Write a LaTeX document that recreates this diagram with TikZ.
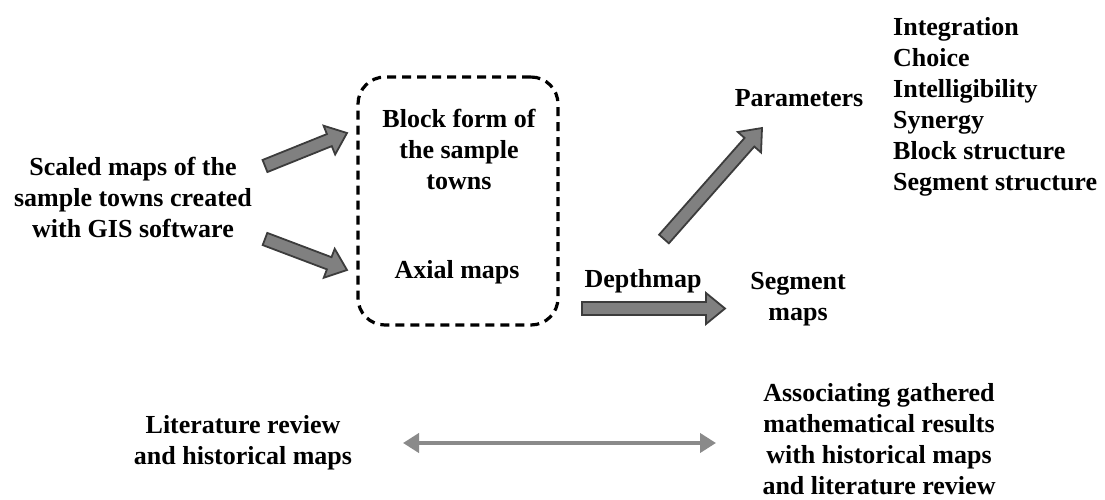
\documentclass[tikz,border=0pt]{standalone}
\usepackage{fontspec}
\setmainfont{Liberation Serif}
\usetikzlibrary{calc,arrows.meta}

\definecolor{arrowfill}{HTML}{808080}
\definecolor{arrowedge}{HTML}{3C3C3C}
\definecolor{linkgray}{HTML}{8A8A8A}

\tikzset{
  txt/.style={font=\fontsize{26}{31}\selectfont\bfseries, inner sep=0pt, align=center},
  listtxt/.style={txt, align=left},
  dashbox/.style={draw=black, line width=3.2pt, dash pattern=on 9pt off 6pt,
    rounded corners=27pt, minimum width=200pt, minimum height=248pt},
  % outlined block arrow built between two named points
  blockarrow/.style={draw=arrowedge, fill=arrowfill, line width=1.8pt, line join=miter,
    to path={let \p1=($(\tikztotarget)-(\tikztostart)$),
      \n1={veclen(\x1,\y1)}, \n2={atan2(\y1,\x1)} in
      {[shift={(\tikztostart)}, rotate=\n2]
      (0pt,6.5pt) -- ({\n1-19pt},6.5pt) -- ({\n1-19pt},15.5pt) -- (\n1,0pt)
      -- ({\n1-19pt},-15.5pt) -- ({\n1-19pt},-6.5pt) -- (0pt,-6.5pt) -- cycle}}},
  link/.style={draw=linkgray, line width=4.5pt,
    {Triangle[length=16pt,width=19pt]}-{Triangle[length=16pt,width=19pt]}}
}

\begin{document}
\begin{tikzpicture}[x=1pt,y=-1pt]
\useasboundingbox (0,0) rectangle (1105,500);

% input maps (multi-line nodes are placed by the baseline of their last line)
\node[txt, anchor=base] (scaled) at (133,237)
  {Scaled maps of the\\sample towns created\\with GIS software};

% dashed group of derived maps
\node[dashbox] (group) at (458,201) {};
\node[txt, anchor=base] (block) at (459,189) {Block form of\\the sample\\towns};
\node[txt, anchor=base] (axial) at (457,278) {Axial maps};

% analysis
\node[txt, anchor=base] (depth) at (643,287) {Depthmap};
\node[txt, anchor=base] (segment) at (798,320) {Segment\\maps};
\node[txt, anchor=base] (params) at (799,107) {Parameters};
\node[listtxt, anchor=base west] (plist) at (893,190)
  {Integration\\Choice\\Intelligibility\\Synergy\\Block structure\\Segment structure};

% historical comparison
\node[txt, anchor=base] (lit) at (243,464) {Literature review\\and historical maps};
\node[txt, anchor=base] (assoc) at (879,494)
  {Associating gathered\\mathematical results\\with historical maps\\and literature review};

% arrow end points
\coordinate (u0) at (265,166);
\coordinate (u1) at (347,133);
\coordinate (l0) at (265,239);
\coordinate (l1) at (347,270);
\coordinate (d0) at (664,239);
\coordinate (d1) at (762,128);
\coordinate (h0) at (582,308.5);
\coordinate (h1) at (725,308.5);
\coordinate (b0) at (403,443);
\coordinate (b1) at (716,443);

\draw[blockarrow] (u0) to (u1);
\draw[blockarrow] (l0) to (l1);
\draw[blockarrow] (d0) to (d1);
\draw[blockarrow] (h0) to (h1);
\draw[link] (b0) -- (b1);
\end{tikzpicture}
\end{document}
